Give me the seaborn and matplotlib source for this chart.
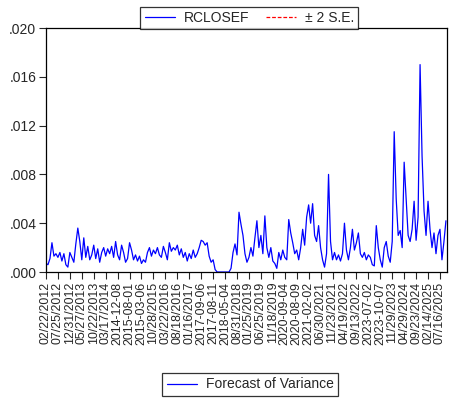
import numpy as np
import pandas as pd
import matplotlib
matplotlib.use("Agg")
import matplotlib.pyplot as plt
from matplotlib.lines import Line2D
from matplotlib.ticker import FuncFormatter
import seaborn as sns

# Forecast of variance (units of 0.001), one value every ~2 px
variance_milli = [
    0.7, 0.6, 1.1, 2.4, 1.3, 1.5, 1.2, 1.6, 0.9, 1.5,
    0.6, 0.4, 1.6, 1.2, 0.8, 2.3, 3.6, 2.5, 1.0, 2.8,
    1.2, 2.1, 1.0, 1.4, 2.2, 1.1, 1.9, 0.8, 1.6, 2.0,
    1.3, 1.9, 1.5, 2.1, 1.2, 2.5, 1.4, 1.0, 2.2, 1.6,
    0.8, 1.1, 2.4, 1.8, 1.0, 1.4, 0.9, 1.3, 0.7, 1.0,
    0.8, 1.6, 2.0, 1.3, 1.8, 1.5, 2.0, 1.4, 1.2, 2.1,
    1.6, 1.0, 2.4, 1.7, 2.0, 1.8, 2.2, 1.4, 1.9, 1.2,
    1.6, 0.9, 1.5, 1.1, 1.8, 1.2, 1.5, 2.0, 2.6, 2.5,
    2.2, 2.4, 1.3, 0.8, 1.0, 0.2, 0.0, 0.0, 0.0, 0.0,
    0.0, 0.0, 0.0, 0.3, 1.6, 2.3, 1.4, 4.9, 3.9, 3.0,
    1.5, 0.8, 1.2, 2.0, 1.3, 2.8, 4.2, 2.0, 3.0, 1.5,
    4.6, 2.0, 1.2, 2.0, 0.9, 0.7, 0.3, 1.6, 1.0, 1.8,
    1.2, 1.0, 4.3, 3.2, 2.4, 1.5, 1.8, 1.0, 2.0, 3.5,
    2.2, 4.5, 5.5, 4.0, 5.6, 3.0, 2.5, 3.8, 2.0, 1.0,
    0.4, 1.5, 8.0, 2.5, 1.0, 1.6, 1.0, 1.4, 0.9, 1.5,
    4.0, 1.8, 1.0, 2.0, 3.5, 1.8, 2.4, 3.2, 1.5, 1.2,
    1.6, 1.0, 1.4, 1.2, 0.6, 0.5, 3.8, 2.0, 1.0, 0.4,
    2.0, 2.5, 1.3, 0.8, 2.5, 11.5, 6.0, 3.0, 3.4, 2.0,
    9.0, 6.0, 3.0, 2.5, 3.5, 5.8, 2.6, 4.5, 17.0, 9.5,
    5.0, 3.0, 5.8, 3.5, 2.0, 3.2, 1.5, 3.0, 3.5, 1.0,
    2.5, 4.2,
]

tick_labels = [
    "02/22/2012", "07/25/2012", "12/31/2012", "05/27/2013", "10/22/2013",
    "03/17/2014", "2014-12-08", "2015-08-01", "2015-03-06", "10/28/2015",
    "03/22/2016", "08/18/2016", "01/16/2017", "2017-09-06", "2017-08-11",
    "2018-05-04", "08/31/2018", "01/25/2019", "06/25/2019", "11/18/2019",
    "2020-09-04", "2020-08-09", "2021-02-02", "06/30/2021", "11/23/2021",
    "04/19/2022", "09/13/2022", "2023-07-02", "2023-10-07", "11/29/2023",
    "04/29/2024", "09/23/2024", "02/14/2025", "07/16/2025",
]

y_ticks = [0.000, 0.004, 0.008, 0.012, 0.016, 0.020]

series_name = "RCLOSEF"
se_name = "± 2 S.E."
bottom_legend = "Forecast of Variance"

df = pd.DataFrame({
    "obs": np.arange(len(variance_milli)),
    "var": np.array(variance_milli) / 1000.0,
})

sns.set_theme(style="ticks")
plt.rcParams["font.family"] = ["Liberation Sans", "DejaVu Sans"]

fig = plt.figure(figsize=(4.49, 4.0), dpi=100)
ax = fig.add_axes([0.1024, 0.32, 0.893, 0.61])

sns.lineplot(data=df, x="obs", y="var", ax=ax, color="#0000FF", linewidth=0.9)

ax.set_xlim(0, len(variance_milli) - 0.5)
ax.set_ylim(0, 0.020)
ax.set_yticks(y_ticks)
ax.yaxis.set_major_formatter(FuncFormatter(lambda v, p: f"{v:.3f}".lstrip("0")))
step = 6
ax.set_xticks(np.arange(len(tick_labels)) * step)
ax.set_xticklabels(tick_labels, rotation=90, fontsize=8.9)
ax.tick_params(axis="y", labelsize=10, direction="out", length=5, width=0.8, pad=2)
ax.tick_params(axis="x", direction="out", length=5, width=0.8, pad=2)
ax.set_xlabel("")
ax.set_ylabel("")
for s in ax.spines.values():
    s.set_color("black")
    s.set_linewidth(0.9)

h1 = Line2D([], [], color="#0000FF", linewidth=0.9)
h2 = Line2D([], [], color="red", linewidth=0.9, linestyle=(0, (3, 1.5)))
leg1 = fig.legend([h1, h2], [series_name, se_name], ncol=2, loc="center",
                  bbox_to_anchor=(0.555, 0.955), fontsize=10, frameon=True,
                  fancybox=False, edgecolor="black", handlelength=2.2,
                  columnspacing=1.2, borderpad=0.3, handletextpad=0.6)
leg1.get_frame().set_linewidth(0.9)

h3 = Line2D([], [], color="#0000FF", linewidth=0.9)
leg2 = fig.legend([h3], [bottom_legend], loc="center",
                  bbox_to_anchor=(0.557, 0.039), fontsize=10, frameon=True,
                  fancybox=False, edgecolor="black", handlelength=2.2,
                  borderpad=0.35, handletextpad=0.6)
leg2.get_frame().set_linewidth(0.9)

fig.savefig("out.png", dpi=100, facecolor="white")
